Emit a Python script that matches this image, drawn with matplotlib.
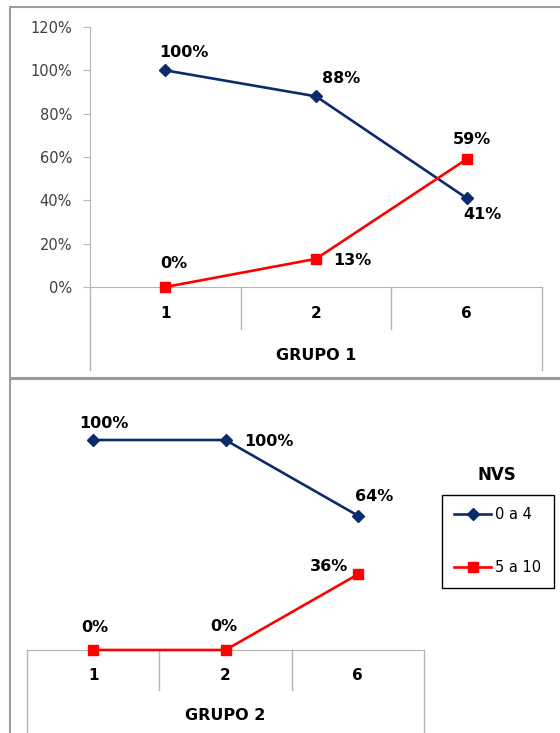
import matplotlib
matplotlib.use('Agg')
import matplotlib.pyplot as plt
from matplotlib.patches import Rectangle
from matplotlib.ticker import PercentFormatter
from matplotlib.transforms import blended_transform_factory

# Tamanho da figura em pixels (dpi = 100)
W, H = 560, 733

categorias = ['1', '2', '6']
series = ['0 a 4', '5 a 10']

grupo1_0a4 = [1.00, 0.88, 0.41]
grupo1_5a10 = [0.00, 0.13, 0.59]
grupo2_0a4 = [1.00, 1.00, 0.64]
grupo2_5a10 = [0.00, 0.00, 0.36]

yticks_grupo1 = [0.0, 0.2, 0.4, 0.6, 0.8, 1.0, 1.2]

AZUL = '#0b2c6b'
VERMELHO = '#ff0000'
CINZA = '#b4b4b4'
BORDA = '#9c9c9c'

# deslocamento dos rótulos (pontos) em relação a cada marcador
off_g1_azul = [(13, 13), (18, 13), (11, -12)]
off_g1_verm = [(6, 17), (26, -1), (4, 14)]
off_g2_azul = [(8, 12), (31, -1), (12, 14)]
off_g2_verm = [(1, 16), (-1, 17), (-21, 6)]


def caixa(esq, topo, dir, base):
    """Converte um retângulo em pixels para fração da figura."""
    return [esq / W, 1 - base / H, (dir - esq) / W, (base - topo) / H]


def painel(ax, v_azul, v_verm, off_azul, off_verm, grupo,
           h_px, div_px, borda_px, grupo_px, pad_cat):
    x = list(range(len(categorias)))

    l1, = ax.plot(x, v_azul, color=AZUL, lw=1.9, marker='D', ms=6.5,
                  label=series[0], clip_on=False, zorder=3)
    l2, = ax.plot(x, v_verm, color=VERMELHO, lw=1.9, marker='s', ms=7,
                  label=series[1], clip_on=False, zorder=3)

    for vals, offs in ((v_azul, off_azul), (v_verm, off_verm)):
        for xi, v, off in zip(x, vals, offs):
            ax.annotate(f'{v:.0%}', (xi, v), xytext=off,
                        textcoords='offset points', ha='center', va='center',
                        fontsize=11.5, fontweight='bold', color='black',
                        annotation_clip=False)

    ax.set_xlim(-0.5, len(categorias) - 0.5)
    ax.set_ylim(0, 1.2)
    ax.set_xticks(x, categorias, fontsize=11, fontweight='bold')
    ax.tick_params(axis='x', length=0, pad=pad_cat)

    for s in ['top', 'right']:
        ax.spines[s].set_visible(False)
    ax.spines['bottom'].set_color(CINZA)
    ax.spines['left'].set_color(CINZA)

    # divisões da tabela de categorias abaixo do eixo
    trans = blended_transform_factory(ax.transData, ax.transAxes)
    for i in range(len(categorias) + 1):
        xb = i - 0.5
        fim = borda_px if i in (0, len(categorias)) else div_px
        ax.plot([xb, xb], [0, -fim / h_px], transform=trans,
                color=CINZA, lw=1, clip_on=False)

    ax.text(0.5, -grupo_px / h_px, grupo, transform=ax.transAxes,
            ha='center', va='center', fontsize=11.5, fontweight='bold')
    return l1, l2


fig = plt.figure(figsize=(W / 100, H / 100), dpi=100)
fig.patch.set_facecolor('white')

# bordas dos dois quadros
fig.add_artist(Rectangle((10 / W, 1 - 378 / H), 560 / W, 371 / H,
                         transform=fig.transFigure, fill=False,
                         ec=BORDA, lw=1.5))
fig.add_artist(Rectangle((10 / W, 1 - 800 / H), 560 / W, 421 / H,
                         transform=fig.transFigure, fill=False,
                         ec=BORDA, lw=1.5))

# GRUPO 1
ax1 = fig.add_axes(caixa(90, 27, 542, 287))
painel(ax1, grupo1_0a4, grupo1_5a10, off_g1_azul, off_g1_verm, 'GRUPO 1',
       h_px=260, div_px=42, borda_px=83, grupo_px=68, pad_cat=14)
ax1.set_yticks(yticks_grupo1)
ax1.yaxis.set_major_formatter(PercentFormatter(1.0, decimals=0))
ax1.tick_params(axis='y', length=5, color=CINZA, labelsize=10.5,
                labelcolor='#404040', pad=8)

# GRUPO 2 (sem eixo y)
ax2 = fig.add_axes(caixa(27, 398, 424, 650))
l1, l2 = painel(ax2, grupo2_0a4, grupo2_5a10, off_g2_azul, off_g2_verm,
                'GRUPO 2', h_px=252, div_px=40, borda_px=90, grupo_px=65,
                pad_cat=13)
ax2.spines['left'].set_visible(False)
ax2.set_yticks([])

fig.text(497 / W, 1 - 475 / H, 'NVS', ha='center', va='center',
         fontsize=12, fontweight='bold')
leg = fig.legend(handles=[l1, l2], loc='upper left',
                 bbox_to_anchor=(442 / W, 1 - 495 / H), borderaxespad=0,
                 fontsize=10.5, fancybox=False, framealpha=1,
                 edgecolor='black', borderpad=0.85, labelspacing=2.6,
                 handlelength=2.5, handletextpad=0.3)
leg.get_frame().set_linewidth(1)

fig.savefig('out.png', dpi=100)
